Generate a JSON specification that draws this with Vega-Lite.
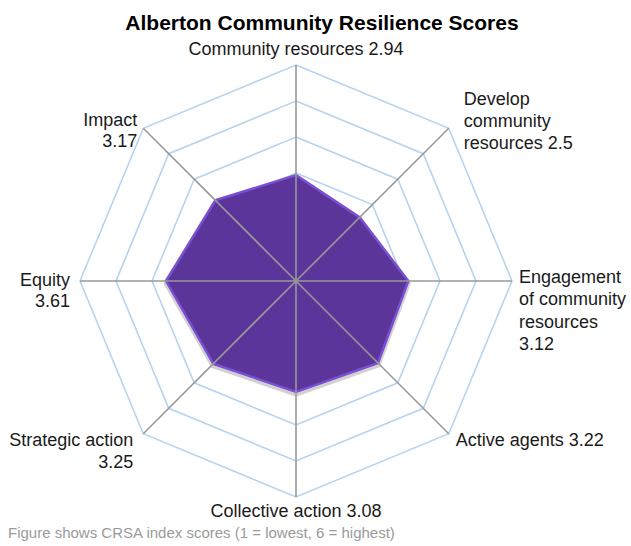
{
  "$schema": "https://vega.github.io/schema/vega-lite/v6.json",
  "width": 432,
  "height": 432,
  "autosize": {"type": "none"},
  "padding": {"left": 80, "top": 65, "right": 119, "bottom": 49},
  "background": "white",
  "config": {"view": {"stroke": null}, "text": {"font": "Liberation Sans"}},
  "title": {
    "text": "Alberton Community Resilience Scores",
    "font": "Liberation Sans",
    "fontSize": 21,
    "fontWeight": "bold",
    "color": "#000",
    "anchor": "middle",
    "dx": 26,
    "offset": 7
  },
  "datasets": {
    "scores": [
      {"k": 0, "axis": "Community resources", "score": 2.94, "label": "Community resources 2.94"},
      {"k": 1, "axis": "Develop community resources", "score": 2.5, "label": "Develop\ncommunity\nresources 2.5"},
      {"k": 2, "axis": "Engagement of community resources", "score": 3.12, "label": "Engagement\nof community\nresources\n3.12"},
      {"k": 3, "axis": "Active agents", "score": 3.22, "label": "Active agents 3.22"},
      {"k": 4, "axis": "Collective action", "score": 3.08, "label": "Collective action 3.08"},
      {"k": 5, "axis": "Strategic action", "score": 3.25, "label": "Strategic action\n3.25"},
      {"k": 6, "axis": "Equity", "score": 3.61, "label": "Equity\n3.61"},
      {"k": 7, "axis": "Impact", "score": 3.17, "label": "Impact\n3.17"}
    ],
    "rings": [
      {"r": 1, "k": [0, 1, 2, 3, 4, 5, 6, 7]},
      {"r": 2, "k": [0, 1, 2, 3, 4, 5, 6, 7]},
      {"r": 3, "k": [0, 1, 2, 3, 4, 5, 6, 7]},
      {"r": 4, "k": [0, 1, 2, 3, 4, 5, 6, 7]},
      {"r": 5, "k": [0, 1, 2, 3, 4, 5, 6, 7]},
      {"r": 6, "k": [0, 1, 2, 3, 4, 5, 6, 7]}
    ],
    "note": [{"text": "Figure shows CRSA index scores (1 = lowest, 6 = highest)"}]
  },
  "layer": [
    {
      "data": {"name": "rings"},
      "transform": [
        {"flatten": ["k"]},
        {"calculate": "datum.r * sin(datum.k * PI / 4)", "as": "gx"},
        {"calculate": "datum.r * cos(datum.k * PI / 4)", "as": "gy"}
      ],
      "mark": {"type": "line", "interpolate": "linear-closed", "stroke": "#b8d3ee", "strokeWidth": 1.6},
      "encoding": {
        "x": {"field": "gx", "type": "quantitative", "scale": {"domain": [-6, 6], "nice": false, "zero": false}, "axis": null},
        "y": {"field": "gy", "type": "quantitative", "scale": {"domain": [-6, 6], "nice": false, "zero": false}, "axis": null},
        "detail": {"field": "r", "type": "nominal"},
        "order": {"field": "k", "type": "quantitative"}
      }
    },
    {
      "data": {"name": "scores"},
      "transform": [
        {"calculate": "datum.score * sin(datum.k * PI / 4)", "as": "px"},
        {"calculate": "datum.score * cos(datum.k * PI / 4) - 0.06", "as": "py"}
      ],
      "mark": {"type": "line", "interpolate": "linear-closed", "stroke": "#000", "strokeOpacity": 0.18, "strokeWidth": 5, "strokeJoin": "round"},
      "encoding": {
        "x": {"field": "px", "type": "quantitative"},
        "y": {"field": "py", "type": "quantitative"},
        "order": {"field": "k", "type": "quantitative"}
      }
    },
    {
      "data": {"name": "scores"},
      "transform": [
        {"calculate": "datum.score * sin(datum.k * PI / 4)", "as": "px"},
        {"calculate": "datum.score * cos(datum.k * PI / 4)", "as": "py"}
      ],
      "mark": {"type": "line", "interpolate": "linear-closed", "fill": "#5c359b", "fillOpacity": 1, "stroke": "#7a4fd4", "strokeWidth": 2.5, "strokeJoin": "round"},
      "encoding": {
        "x": {"field": "px", "type": "quantitative"},
        "y": {"field": "py", "type": "quantitative"},
        "order": {"field": "k", "type": "quantitative"}
      }
    },
    {
      "data": {"name": "scores"},
      "transform": [
        {"calculate": "6 * sin(datum.k * PI / 4)", "as": "ex"},
        {"calculate": "6 * cos(datum.k * PI / 4)", "as": "ey"}
      ],
      "mark": {"type": "rule", "stroke": "#999999", "strokeWidth": 1.6},
      "encoding": {
        "x": {"field": "ex", "type": "quantitative"},
        "y": {"field": "ey", "type": "quantitative"},
        "x2": {"datum": 0},
        "y2": {"datum": 0}
      }
    },
    {
      "data": {"name": "scores"},
      "transform": [
        {"filter": "datum.k == 0"},
        {"calculate": "6 * sin(datum.k * PI / 4)", "as": "ex"},
        {"calculate": "6 * cos(datum.k * PI / 4)", "as": "ey"}
      ],
      "mark": {"type": "text", "align": "center", "baseline": "middle", "dy": -15, "fontSize": 18, "color": "#1a1a1a", "lineBreak": "\n", "lineHeight": 22},
      "encoding": {"x": {"field": "ex", "type": "quantitative"}, "y": {"field": "ey", "type": "quantitative"}, "text": {"field": "label"}}
    },
    {
      "data": {"name": "scores"},
      "transform": [
        {"filter": "datum.k == 1"},
        {"calculate": "6 * sin(datum.k * PI / 4)", "as": "ex"},
        {"calculate": "6 * cos(datum.k * PI / 4)", "as": "ey"}
      ],
      "mark": {"type": "text", "align": "left", "baseline": "middle", "dx": 15, "dy": -28, "fontSize": 18, "color": "#1a1a1a", "lineBreak": "\n", "lineHeight": 22},
      "encoding": {"x": {"field": "ex", "type": "quantitative"}, "y": {"field": "ey", "type": "quantitative"}, "text": {"field": "label"}}
    },
    {
      "data": {"name": "scores"},
      "transform": [
        {"filter": "datum.k == 2"},
        {"calculate": "6 * sin(datum.k * PI / 4)", "as": "ex"},
        {"calculate": "6 * cos(datum.k * PI / 4)", "as": "ey"}
      ],
      "mark": {"type": "text", "align": "left", "baseline": "middle", "dx": 7, "dy": -3, "fontSize": 18, "color": "#1a1a1a", "lineBreak": "\n", "lineHeight": 22.3},
      "encoding": {"x": {"field": "ex", "type": "quantitative"}, "y": {"field": "ey", "type": "quantitative"}, "text": {"field": "label"}}
    },
    {
      "data": {"name": "scores"},
      "transform": [
        {"filter": "datum.k == 3"},
        {"calculate": "6 * sin(datum.k * PI / 4)", "as": "ex"},
        {"calculate": "6 * cos(datum.k * PI / 4)", "as": "ey"}
      ],
      "mark": {"type": "text", "align": "left", "baseline": "middle", "dx": 7, "dy": 7, "fontSize": 18, "color": "#1a1a1a", "lineBreak": "\n", "lineHeight": 22},
      "encoding": {"x": {"field": "ex", "type": "quantitative"}, "y": {"field": "ey", "type": "quantitative"}, "text": {"field": "label"}}
    },
    {
      "data": {"name": "scores"},
      "transform": [
        {"filter": "datum.k == 4"},
        {"calculate": "6 * sin(datum.k * PI / 4)", "as": "ex"},
        {"calculate": "6 * cos(datum.k * PI / 4)", "as": "ey"}
      ],
      "mark": {"type": "text", "align": "center", "baseline": "middle", "dy": 15, "fontSize": 18, "color": "#1a1a1a", "lineBreak": "\n", "lineHeight": 22},
      "encoding": {"x": {"field": "ex", "type": "quantitative"}, "y": {"field": "ey", "type": "quantitative"}, "text": {"field": "label"}}
    },
    {
      "data": {"name": "scores"},
      "transform": [
        {"filter": "datum.k == 5"},
        {"calculate": "6 * sin(datum.k * PI / 4)", "as": "ex"},
        {"calculate": "6 * cos(datum.k * PI / 4)", "as": "ey"}
      ],
      "mark": {"type": "text", "align": "right", "baseline": "middle", "dx": -10, "dy": 7, "fontSize": 18, "color": "#1a1a1a", "lineBreak": "\n", "lineHeight": 22},
      "encoding": {"x": {"field": "ex", "type": "quantitative"}, "y": {"field": "ey", "type": "quantitative"}, "text": {"field": "label"}}
    },
    {
      "data": {"name": "scores"},
      "transform": [
        {"filter": "datum.k == 6"},
        {"calculate": "6 * sin(datum.k * PI / 4)", "as": "ex"},
        {"calculate": "6 * cos(datum.k * PI / 4)", "as": "ey"}
      ],
      "mark": {"type": "text", "align": "right", "baseline": "middle", "dx": -10, "dy": 0, "fontSize": 18, "color": "#1a1a1a", "lineBreak": "\n", "lineHeight": 21},
      "encoding": {"x": {"field": "ex", "type": "quantitative"}, "y": {"field": "ey", "type": "quantitative"}, "text": {"field": "label"}}
    },
    {
      "data": {"name": "scores"},
      "transform": [
        {"filter": "datum.k == 7"},
        {"calculate": "6 * sin(datum.k * PI / 4)", "as": "ex"},
        {"calculate": "6 * cos(datum.k * PI / 4)", "as": "ey"}
      ],
      "mark": {"type": "text", "align": "right", "baseline": "middle", "dx": -6, "dy": -7, "fontSize": 18, "color": "#1a1a1a", "lineBreak": "\n", "lineHeight": 21},
      "encoding": {"x": {"field": "ex", "type": "quantitative"}, "y": {"field": "ey", "type": "quantitative"}, "text": {"field": "label"}}
    },
    {
      "data": {"name": "note"},
      "mark": {"type": "text", "align": "left", "baseline": "middle", "fontSize": 15, "color": "#9a9a9a"},
      "encoding": {
        "x": {"datum": -8, "type": "quantitative"},
        "y": {"datum": -7, "type": "quantitative"},
        "text": {"field": "text"}
      }
    }
  ]
}
